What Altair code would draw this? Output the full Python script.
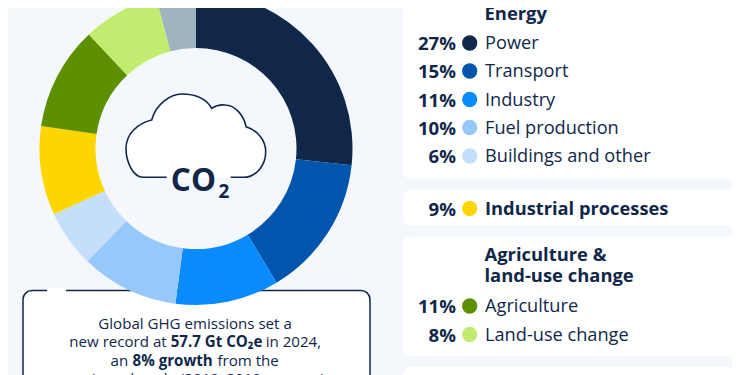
import altair as alt
import pandas as pd

OFF = 8
W, H = 724, 367

sectors = ["Power", "Transport", "Industry", "Fuel production", "Buildings and other",
           "Industrial processes", "Agriculture", "Land-use change", "Waste"]
shares = [26.7, 14.7, 10.7, 10.1, 5.9, 9.2, 10.7, 7.9, 4.1]
colors = ["#10274a", "#0055ad", "#0a8cff", "#96c8fb", "#c5dffa",
          "#ffd500", "#5c9000", "#c2ec70", "#9eb4bf"]

legend_names = sectors[:8]
legend_pct = ["27%", "15%", "11%", "10%", "6%", "9%", "11%", "8%"]
legend_y = [43, 71, 99.5, 127.5, 156, 208.5, 306, 334.5]

headers = ["Energy", "Agriculture &", "land-use change"]
header_y = [20, 261, 282]

NAVY = "#10274a"
BG = "#f4f8fc"
FONT = "Open Sans"

donut = pd.DataFrame({"name": sectors, "share": shares, "idx": list(range(len(sectors)))})
leg = pd.DataFrame({"name": legend_names, "pct": legend_pct, "row": list(range(len(legend_names)))})
leg["bold"] = [n == "Industrial processes" for n in legend_names]

cx, cy = 196 - OFF, 148.5 - OFF

def panel(x, x2, y, y2, **kw):
    return alt.Chart(pd.DataFrame({"a": [0]})).mark_rect(**kw).encode(
        x=alt.value(x - OFF), x2=alt.value(x2 - OFF), y=alt.value(y - OFF), y2=alt.value(y2 - OFF))

panels = [panel(403, 780, -30, 179, fill="white", cornerRadius=8),
          panel(403, 780, 190, 225.7, fill="white", cornerRadius=8),
          panel(403, 780, 236.7, 356, fill="white", cornerRadius=8),
          panel(403, 780, 367, 420, fill="white", cornerRadius=8)]

box = panel(23, 370, 290.5, 430, fill="white", stroke=NAVY, strokeWidth=1.5, cornerRadius=9)
gap = panel(47, 66, 288.5, 292.5, fill="white")

arc = alt.Chart(donut).mark_arc(innerRadius=100.5, outerRadius=156.5).encode(
    theta=alt.Theta("share:Q", stack=True, scale=alt.Scale(domain=[0, 100], range=[0, 6.28318530718])),
    order=alt.Order("idx:Q"),
    color=alt.Color("name:N", scale=alt.Scale(domain=sectors, range=colors), legend=None),
    x=alt.value(cx), y=alt.value(cy),
)

CLOSED = ("M-52.7,28.8 C-63,28.8 -70,13 -70,0 C-70,-14 -59,-25 -44.3,-28.5 C-40,-45 -25,-54.5 -14.3,-54.5 "
          "C0,-54.5 10,-50 15.7,-40.2 C20,-43 25,-44 29,-43.5 C39,-43.5 48,-33 50,-21.8 "
          "C62,-18 69.7,-8 69.7,3.2 C69.7,17 60,28.8 47.3,28.8 Z")
OPEN = ("M-29.3,28.8 L-52.7,28.8 C-63,28.8 -70,13 -70,0 C-70,-14 -59,-25 -44.3,-28.5 C-40,-45 -25,-54.5 -14.3,-54.5 "
        "C0,-54.5 10,-50 15.7,-40.2 C20,-43 25,-44 29,-43.5 C39,-43.5 48,-33 50,-21.8 "
        "C62,-18 69.7,-8 69.7,3.2 C69.7,17 60,28.8 47.3,28.8 L34.7,28.8")
one = pd.DataFrame({"a": [0]})
cloud_fill = alt.Chart(one).mark_point(shape=CLOSED, size=4, filled=True, fill="white", opacity=1, strokeWidth=0).encode(
    x=alt.value(cx), y=alt.value(cy))
cloud_line = alt.Chart(one).mark_point(shape=OPEN, size=4, filled=False, stroke=NAVY, strokeWidth=1.6, opacity=1).encode(
    x=alt.value(cx), y=alt.value(cy))

def text(s, x, y, size=18, weight="normal", align="left", color=NAVY, **kw):
    return alt.Chart(pd.DataFrame({"t": [s]})).mark_text(
        font=FONT, fontSize=size, fontWeight=weight, align=align, baseline="alphabetic", color=color, **kw
    ).encode(text="t:N", x=alt.value(x - OFF), y=alt.value(y - OFF))

co2 = [text("CO", 193.4, 190.5, 31.5, "bold", "center"), text("2", 224, 198, 19, "bold", "center")]

y_rows = alt.Y("row:Q", scale=alt.Scale(domain=list(range(len(legend_names))), range=[v - OFF for v in legend_y]), axis=None)

dots = alt.Chart(leg).mark_point(filled=True, size=234, opacity=1, shape="circle").encode(
    x=alt.value(469.7 - OFF), y=y_rows, color=alt.Color("name:N", legend=None))
pcts = alt.Chart(leg).mark_text(font=FONT, fontSize=18.6, fontWeight="bold", align="right", baseline="middle", color=NAVY, dy=1).encode(
    x=alt.value(456 - OFF), y=y_rows, text="pct:N")
names = alt.Chart(leg[~leg["bold"]]).mark_text(font=FONT, fontSize=18.2, align="left", baseline="middle", color=NAVY, dy=1).encode(
    x=alt.value(485 - OFF), y=y_rows, text="name:N")
bold_names = alt.Chart(leg[leg["bold"]]).mark_text(font=FONT, fontSize=18.3, fontWeight="bold", align="left", baseline="middle", color=NAVY, dy=1).encode(
    x=alt.value(485 - OFF), y=y_rows, text="name:N")

hdr = [text(h, 484.5, yy, 18.4, "bold") for h, yy in zip(headers, header_y)]

note = [
    text("Global GHG emissions set a", 98.3, 329, 15.1),
    text("new record at", 69.3, 347, 15.1),
    text("57.7 Gt CO\u2082e", 170.7, 347, 15.1, "bold"),
    text("in 2024,", 265.7, 347, 15.1),
    text("an", 110.5, 366, 15.1),
    text("8% growth", 132.5, 366, 15.1, "bold"),
    text("from the", 217.5, 366, 15.1),
    text("previous decade (2010\u20132019 average)", 325, 384, 15.1, align="right"),
]

chart = alt.layer(
    *panels, box, gap, arc, cloud_fill, cloud_line, *co2, dots, pcts, names, bold_names, *hdr, *note
).properties(
    width=W, height=H, padding=0, background=BG,
    autosize=alt.AutoSizeParams(type="none"),
).configure_view(stroke=None)

chart.save("out.html", embed_options={"renderer": "svg", "actions": False})
